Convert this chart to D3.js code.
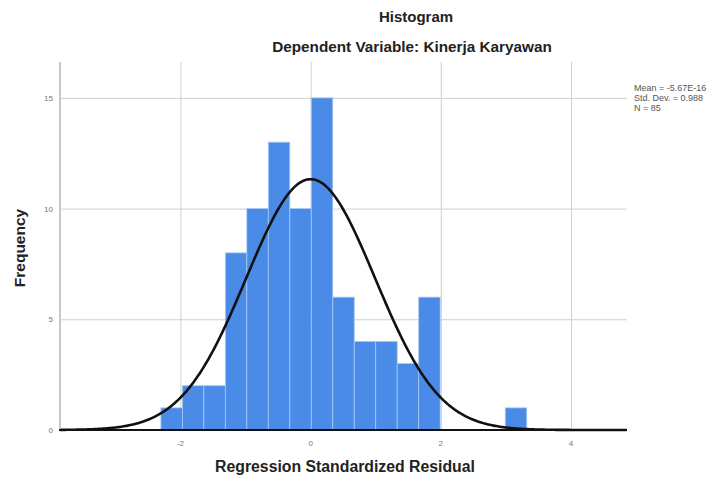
<!DOCTYPE html>
<html>
<head>
<meta charset="utf-8">
<script src="https://cdn.jsdelivr.net/npm/d3@7"></script>
<style>
  body { margin: 0; background: #fff; }
  text { font-family: "Liberation Sans", Arial, sans-serif; }
</style>
</head>
<body>
<svg id="chart" width="719" height="479"></svg>
<script>
// histogram of regression standardized residuals
const binStarts = [-2.30, -1.97, -1.64, -1.31, -0.98, -0.65, -0.32, 0.01, 0.34, 0.67, 1.00, 1.33, 1.66, 2.99];
const binCounts = [1, 2, 2, 8, 10, 13, 10, 15, 6, 4, 4, 3, 6, 1];
const binWidth = 0.33;

const xTicks = [-2, 0, 2, 4];
const yTicks = [0, 5, 10, 15];

const statLines = ["Mean = -5.67E-16", "Std. Dev. = 0.988", "N = 85"];
const mean = -5.67e-16, sd = 0.988, n = 85;

const svg = d3.select("#chart");

const x = d3.scaleLinear().domain([-3.85, 4.86]).range([60, 627]);
const y = d3.scaleLinear().domain([0, 16.62]).range([430, 62]);

// grid
svg.append("g")
  .attr("transform", "translate(60,0)")
  .call(d3.axisRight(y).tickValues(yTicks.filter(d => d > 0)).tickFormat(d => null)
    .tickSizeOuter(0).tickSizeInner(627 - 60))
  .call(g => g.select(".domain").remove())
  .call(g => g.selectAll("line").attr("stroke", "#cfcfcf"));

svg.append("g")
  .attr("transform", "translate(0,62)")
  .call(d3.axisBottom(x).tickValues(xTicks).tickFormat(d => null)
    .tickSizeOuter(0).tickSizeInner(430 - 62))
  .call(g => g.select(".domain").remove())
  .call(g => g.selectAll("line").attr("stroke", "#cfcfcf"));

// bars
svg.append("g").selectAll("rect")
  .data(binStarts.map((s, i) => ({ s, c: binCounts[i] })))
  .join("rect")
  .attr("x", d => x(d.s))
  .attr("width", d => x(d.s + binWidth) - x(d.s))
  .attr("y", d => y(d.c))
  .attr("height", d => y(0) - y(d.c))
  .attr("fill", "#4a8be8")
  .attr("stroke", "#a9c8f5")
  .attr("stroke-width", 0.8);

// normal curve
const scale = n * binWidth / (sd * Math.sqrt(2 * Math.PI));
const pts = d3.range(-3.85, 4.861, 0.02).map(v => [v, scale * Math.exp(-0.5 * ((v - mean) / sd) ** 2)]);
svg.append("path")
  .datum(pts)
  .attr("fill", "none")
  .attr("stroke", "#111")
  .attr("stroke-width", 2.6)
  .attr("d", d3.line().x(d => x(d[0])).y(d => y(d[1])));

// axes
svg.append("line")
  .attr("x1", 60).attr("x2", 60).attr("y1", 62).attr("y2", 430)
  .attr("stroke", "#c8c8c8").attr("stroke-width", 2);

svg.append("line")
  .attr("x1", 59).attr("x2", 627).attr("y1", 430).attr("y2", 430)
  .attr("stroke", "#111").attr("stroke-width", 2);

svg.append("g").selectAll("text")
  .data(yTicks)
  .join("text")
  .attr("x", 53).attr("y", d => y(d) + 3)
  .attr("text-anchor", "end")
  .attr("font-size", 8).attr("fill", "#777")
  .text(d => d);

svg.append("g").selectAll("text")
  .data(xTicks)
  .join("text")
  .attr("x", d => x(d)).attr("y", 446)
  .attr("text-anchor", "middle")
  .attr("font-size", 8).attr("fill", "#777")
  .text(d => d);

// titles
svg.append("text")
  .attr("x", 416).attr("y", 22).attr("text-anchor", "middle")
  .attr("font-size", 15).attr("font-weight", "bold").attr("fill", "#222")
  .text("Histogram");
svg.append("text")
  .attr("x", 412).attr("y", 52).attr("text-anchor", "middle")
  .attr("font-size", 15.3).attr("font-weight", "bold").attr("fill", "#222")
  .text("Dependent Variable: Kinerja Karyawan");

svg.append("text")
  .attr("x", 345).attr("y", 472).attr("text-anchor", "middle")
  .attr("font-size", 15.8).attr("font-weight", "bold").attr("fill", "#222")
  .text("Regression Standardized Residual");

svg.append("text")
  .attr("transform", "translate(25,248) rotate(-90)")
  .attr("text-anchor", "middle")
  .attr("font-size", 15.5).attr("font-weight", "bold").attr("fill", "#222")
  .text("Frequency");

// stats legend
svg.append("g").selectAll("text")
  .data(statLines)
  .join("text")
  .attr("x", 634).attr("y", (d, i) => 91 + i * 10)
  .attr("font-size", 9).attr("fill", "#555")
  .text(d => d);
</script>
</body>
</html>
